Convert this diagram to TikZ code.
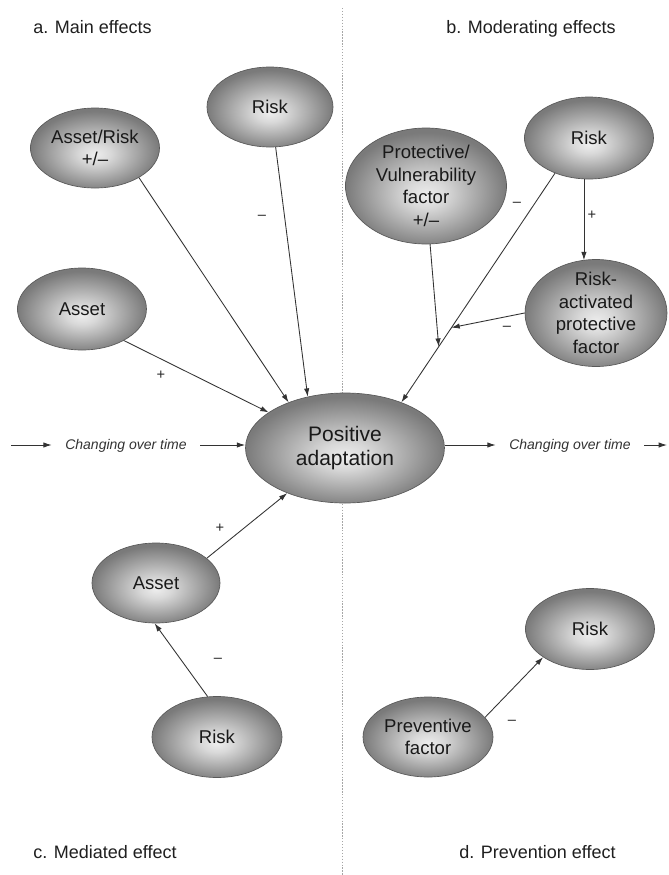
\documentclass[tikz,border=0pt]{standalone}
\usepackage{fontspec}
\setmainfont{Liberation Sans}
\usetikzlibrary{shapes.geometric,arrows.meta,calc}
\pgfdeclareradialshading{orb}{\pgfpoint{0bp}{-4bp}}{color(0bp)=(black!7); color(6bp)=(black!15); color(25bp)=(black!52); color(50bp)=(black!52)}
\newcommand{\nodefnt}{\fontsize{13.9pt}{17pt}\selectfont}
\tikzset{
  orb/.style={ellipse, draw=black!65, line width=0.5pt, shade, shading=orb, inner sep=-15pt, align=center, text=black!90, font=\nodefnt},
  sz/.style 2 args={minimum width={#1*0.75pt}, minimum height={#2*0.75pt}},
  arr/.style={draw=black!80, line width=0.65pt, -{Latex[length=6.2pt,width=4pt]}},
  sgn/.style={font=\fontsize{11pt}{12pt}\selectfont, text=black!85, inner sep=0pt},
  hdr/.style={font=\fontsize{13.5pt}{16pt}\selectfont, text=black!88, inner sep=0pt},
  chg/.style={font=\fontsize{10.5pt}{12pt}\selectfont\itshape, text=black!80, inner ysep=0pt, inner xsep=10pt, text height=7pt, text depth=0pt},
}
\begin{document}
\begin{tikzpicture}[x=0.75pt,y=-0.75pt]
\useasboundingbox (0,0) rectangle (668,875);
\fill[white] (0,0) rectangle (668,875);
% divider
\coordinate (dtop) at (342,8);
\coordinate (dbot) at (342,875);
\draw[black!35, line width=0.6pt, dash pattern=on 1pt off 1.2pt] (dtop) -- (dbot);
% headers
\node[hdr, anchor=base west] (ha) at (33,33) {a. Main effects};
\node[hdr, anchor=base west] (hb) at (446,33) {b. Moderating effects};
\node[hdr, anchor=base west] (hc) at (33,858) {c. Mediated effect};
\node[hdr, anchor=base west] (hd) at (459,858) {d. Prevention effect};
% nodes
\node[orb, sz={126}{80}] (ra) at (270,107) {Risk};
\node[orb, sz={129}{80}] (ar) at (95,148) {Asset/Risk\\+/–};
\node[orb, sz={129}{82}] (aa) at (82,309) {Asset};
\node[orb, sz={199}{110}, font=\fontsize{15.75pt}{17.5pt}\selectfont] (pa) at (345,448) {Positive\\adaptation};
\node[orb, sz={129}{82}] (rb) at (589,138) {Risk};
\node[orb, sz={161}{116}] (pv) at (426,186) {Protective/\\Vulnerability\\factor\\+/–};
\node[orb, sz={142}{107}] (rap) at (596,313) {Risk-\\activated\\protective\\factor};
\node[orb, sz={128}{80}] (ac) at (156,583) {Asset};
\node[orb, sz={130}{81}] (rc) at (217,737) {Risk};
\node[orb, sz={129}{81}] (rd) at (590,629) {Risk};
\node[orb, sz={130}{80}] (pf) at (428,737) {Preventive\\factor};
% connectors a
\draw[arr] (ar.-34) -- (pa.141);
\draw[arr] (ra.-82) -- (pa.126);
\draw[arr] (aa.-37) -- (pa.155);
% connectors b
\draw[arr] (rb.226) -- (pa.39) coordinate[pos=0.757] (m1) coordinate[pos=0.674] (m2);
\draw[arr] (pv.-86) -- (m1);
\draw[arr] (rap.west) -- (m2);
\draw[arr] (rb.-97) -- (rb.-97 |- rap.105);
% connectors c, d
\draw[arr] (ac.26) -- (pa.218);
\draw[arr] (rc.103) -- (ac.-92);
\draw[arr] (pf.19) -- (rd.211);
% signs
\node[sgn] (s1) at (262,217) {–};
\node[sgn] (s2) at (161,375) {+};
\node[sgn] (s3) at (517,204) {–};
\node[sgn] (s4) at (592,215) {+};
\node[sgn] (s5) at (507,328) {–};
\node[sgn] (s6) at (220,528) {+};
\node[sgn] (s7) at (218,660) {–};
\node[sgn] (s8) at (512,722) {–};
% changing over time
\coordinate (l0) at (11,445);
\node[chg] (cl) at (126,445) {Changing over time};
\draw[arr] (l0) -- (cl.west);
\draw[arr] (cl.east) -- (cl.east -| pa.west);
\node[chg] (cr) at (570,445) {Changing over time};
\coordinate (r0) at (667,445);
\draw[arr] (cr.west -| pa.east) -- (cr.west);
\draw[arr] (cr.east) -- (r0);
\end{tikzpicture}
\end{document}
